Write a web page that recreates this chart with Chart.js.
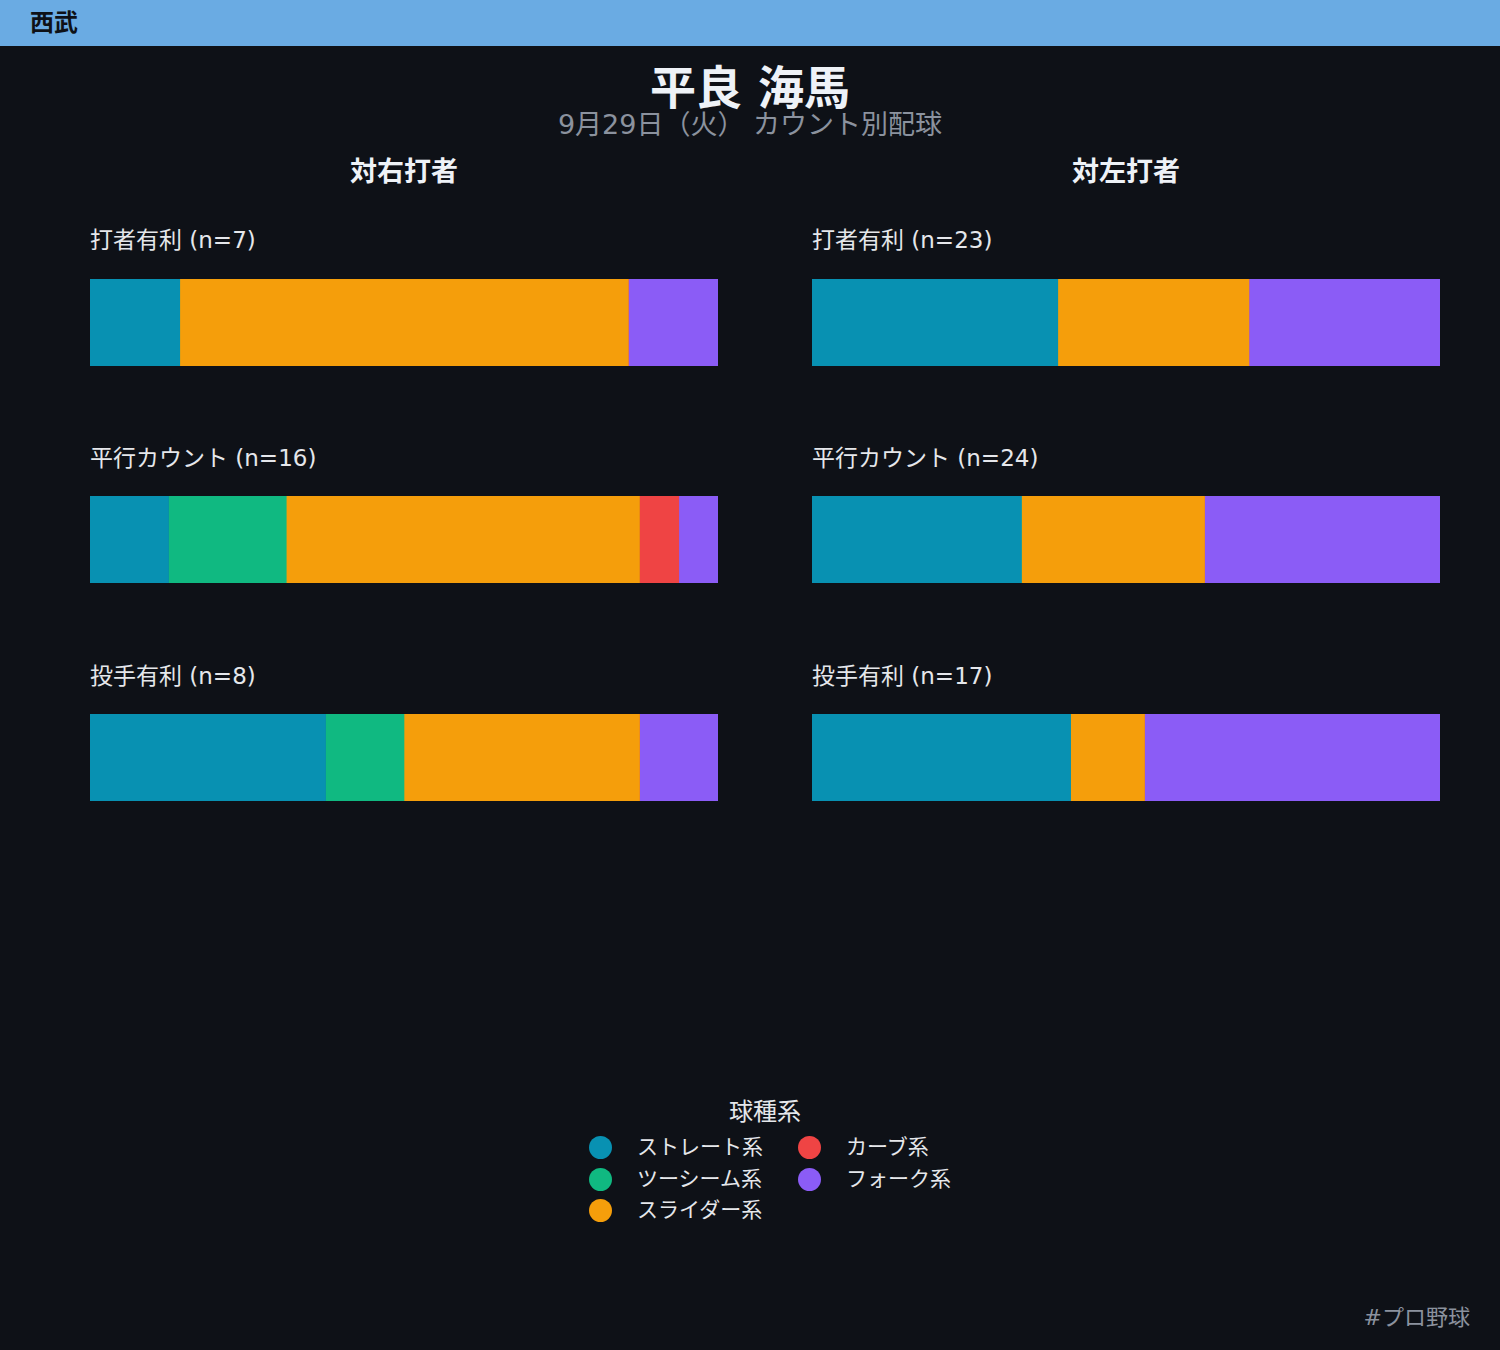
<!DOCTYPE html>
<html lang="ja">
<head>
<meta charset="utf-8">
<script src="https://cdn.jsdelivr.net/npm/chart.js@4"></script>
<style>
  body { margin: 0; width: 1500px; height: 1350px; background: #0e1117; position: relative; overflow: hidden;
         font-family: "DejaVu Sans", "Noto Sans CJK JP", sans-serif; color: #e5e7eb; }
  .t { position: absolute; white-space: nowrap; }
  #banner { position: absolute; left: 0; top: 0; width: 1500px; height: 46px; background: #6aabe3; }
  #team { left: 30px; top: 0; height: 46px; line-height: 46px; font-size: 24px; font-weight: bold; color: #0e1117; }
  #title { left: 0; width: 1500px; text-align: center; top: 66px; height: 44px; line-height: 44px; font-size: 46px; font-weight: bold; color: #eef2f7; }
  #sub { left: 0; width: 1500px; text-align: center; top: 110px; height: 29px; line-height: 29px; font-size: 27px; color: #8b929e; }
  .col { width: 628px; text-align: center; top: 156px; height: 32px; line-height: 32px; font-size: 27px; font-weight: bold; color: #eef2f7; }
  .lab { font-size: 23px; height: 30px; line-height: 30px; color: #e5e7eb; }
  canvas.bar { position: absolute; }
  #legtitle { left: 665px; width: 200px; text-align: center; top: 1097px; height: 30px; line-height: 30px; font-size: 24px; color: #e5e7eb; }
  .dot { position: absolute; width: 23px; height: 23px; border-radius: 50%; }
  .li { font-size: 21px; height: 30px; line-height: 30px; color: #e5e7eb; }
  #foot { right: 30px; top: 1303px; height: 30px; line-height: 30px; font-size: 22px; color: #8b929e; }
</style>
</head>
<body>
<div id="banner"></div>
<div class="t" id="team">西武</div>
<div class="t" id="title">平良 海馬</div>
<div class="t" id="sub">9月29日（火） カウント別配球</div>
<div class="t" id="foot">#プロ野球</div>
<div class="t" id="legtitle">球種系</div>

<script>
// ===== データ =====
const pitchTypes = ["ストレート系", "ツーシーム系", "スライダー系", "カーブ系", "フォーク系"];
const pitchColors = ["#0891b2", "#10b981", "#f59e0b", "#ef4444", "#8b5cf6"];
const countLabels = ["打者有利", "平行カウント", "投手有利"];
const sideLabels = ["対右打者", "対左打者"];

// 対右打者（打者有利, 平行カウント, 投手有利）
const rStraight = [1, 2, 3];
const rTwoSeam  = [0, 3, 1];
const rSlider   = [5, 9, 3];
const rCurve    = [0, 1, 0];
const rFork     = [1, 1, 1];

// 対左打者
const lStraight = [9, 8, 7];
const lTwoSeam  = [0, 0, 0];
const lSlider   = [7, 7, 2];
const lCurve    = [0, 0, 0];
const lFork     = [7, 9, 8];

const sides = [
  [rStraight, rTwoSeam, rSlider, rCurve, rFork],
  [lStraight, lTwoSeam, lSlider, lCurve, lFork],
];

// ===== レイアウト =====
const colX = [90, 812];
const barW = 628, barH = 87;
const barTop = [279, 496, 714];
const labTop = [225, 443, 661];

function addText(cls, text, left, top) {
  const d = document.createElement("div");
  d.className = "t " + cls;
  d.textContent = text;
  d.style.left = left + "px";
  d.style.top = top + "px";
  document.body.appendChild(d);
  return d;
}

// 横棒（100%積み上げ）
function drawBar(left, top, series, idx) {
  const cv = document.createElement("canvas");
  cv.className = "bar";
  cv.width = barW; cv.height = barH;
  cv.style.left = left + "px"; cv.style.top = top + "px";
  cv.style.width = barW + "px"; cv.style.height = barH + "px";
  document.body.appendChild(cv);
  const n = series.reduce((acc, s) => acc + s[idx], 0);
  new Chart(cv, {
    type: "bar",
    data: {
      labels: [countLabels[idx]],
      datasets: pitchTypes.map((name, k) => ({
        label: name,
        data: [series[k][idx]],
        backgroundColor: pitchColors[k],
        borderWidth: 0,
        barPercentage: 1,
        categoryPercentage: 1,
      })),
    },
    options: {
      indexAxis: "y",
      responsive: false,
      animation: false,
      devicePixelRatio: 1,
      layout: { padding: 0 },
      plugins: { legend: { display: false }, tooltip: { enabled: false } },
      scales: {
        x: { stacked: true, min: 0, max: n, display: false },
        y: { stacked: true, display: false },
      },
    },
  });
  return n;
}

sides.forEach((series, s) => {
  addText("col", sideLabels[s], colX[s], 156);
  countLabels.forEach((lab, i) => {
    const n = drawBar(colX[s], barTop[i], series, i);
    addText("lab", `${lab} (n=${n})`, colX[s], labTop[i]);
  });
});

// ===== 凡例 =====
const legCols = [[600, 637], [809, 846]];
const legRows = [1147, 1179, 1210];
pitchTypes.forEach((name, k) => {
  const c = k < 3 ? 0 : 1;
  const r = k < 3 ? k : k - 3;
  const dot = document.createElement("div");
  dot.className = "dot";
  dot.style.background = pitchColors[k];
  dot.style.left = (legCols[c][0] - 11.5) + "px";
  dot.style.top = (legRows[r] - 11.5) + "px";
  document.body.appendChild(dot);
  addText("li", name, legCols[c][1], legRows[r] - 15);
});
</script>
</body>
</html>
